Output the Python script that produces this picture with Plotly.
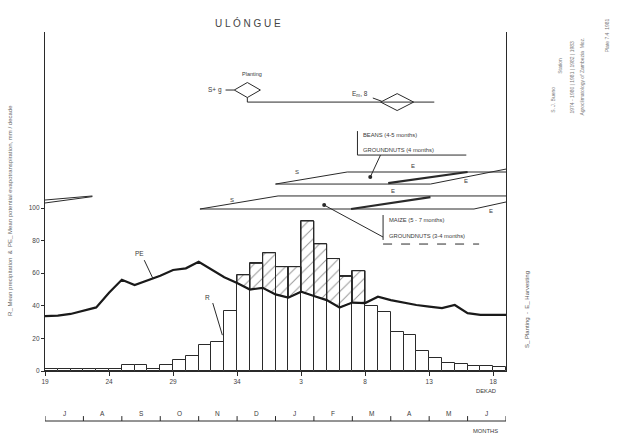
import plotly.graph_objects as go

# ---- data -------------------------------------------------------------
DEKAD_TICK_LABELS = ["19", "24", "29", "34", "3", "8", "13", "18"]
MONTHS = ["J", "A", "S", "O", "N", "D", "J", "F", "M", "A", "M", "J"]

# mean rainfall per dekad (mm), July dekad 19 through June dekad 18
RAIN = [1.5, 1.5, 1.0, 1.5, 1.0, 1.5,
        3.5, 3.5, 1.5, 3.5, 6.5, 9.0,
        16.0, 18.0, 37.0, 59.0, 66.0, 72.5,
        64.0, 64.0, 92.0, 78.0, 69.0, 58.0,
        61.5, 40.0, 36.0, 24.0, 22.0, 12.0,
        8.0, 5.0, 4.5, 3.0, 3.0, 2.5]

# mean potential evapotranspiration (mm/dekad) at dekad boundaries
PE = [33.7, 34.0, 35.0, 37.0, 39.0, 48.0, 56.0, 52.7, 55.5, 58.5,
      62.0, 63.0, 67.0, 62.0, 57.5, 54.0, 50.0, 51.0, 47.0, 45.0,
      48.7, 46.0, 43.5, 39.0, 42.0, 41.7, 45.6, 43.5, 42.0, 40.5,
      39.5, 38.6, 40.5, 35.5, 34.4, 34.4, 34.4]

N = len(RAIN)
INK = "#2a2a2a"
TXT = "#3a3a3a"
FONT = "Liberation Sans"

# plot area in pixels (used for paper-coordinate texts)
PX_L, PX_R, PX_T, PX_B = 45, 506, 32, 371

fig = go.Figure()

# rainfall bars
fig.add_trace(go.Bar(
    x=[i + 0.5 for i in range(N)], y=RAIN, width=1.0,
    marker=dict(color="white", line=dict(color=INK, width=1)),
    hoverinfo="skip", showlegend=False))

# hatching where rainfall exceeds PE
hx, hy = [], []
for i in range(N):
    if RAIN[i] > max(PE[i], PE[i + 1]):
        hx += [i, i + 1, i + 1, i, i, None]
        hy += [PE[i], PE[i + 1], RAIN[i], RAIN[i], PE[i], None]
fig.add_trace(go.Scatter(
    x=hx, y=hy, mode="lines", fill="toself",
    fillcolor="rgba(0,0,0,0)",
    fillpattern=dict(shape="/", fgcolor=INK, size=8, solidity=0.12),
    line=dict(color=INK, width=1), hoverinfo="skip", showlegend=False))

# PE curve
fig.add_trace(go.Scatter(
    x=list(range(N + 1)), y=PE, mode="lines",
    line=dict(color="#1a1a1a", width=2.2), hoverinfo="skip", showlegend=False))


def seg(x0, y0, x1, y1, width=1.0, dash=None, yref="y"):
    fig.add_shape(type="line", xref="x", yref=yref, x0=x0, y0=y0, x1=x1, y1=y1,
                  line=dict(color=INK, width=width, dash=dash))


def note(x, y, text, size=6, xanchor="center", xref="x", yref="y", angle=0, color=TXT):
    fig.add_annotation(x=x, y=y, xref=xref, yref=yref, text=text, showarrow=False,
                       xanchor=xanchor, yanchor="middle", textangle=angle,
                       font=dict(family=FONT, size=size, color=color))


def diamond(cx, cy, hw, hh):
    fig.add_trace(go.Scatter(
        x=[cx - hw, cx, cx + hw, cx, cx - hw], y=[cy, cy + hh, cy, cy - hh, cy],
        mode="lines", line=dict(color=INK, width=1), fill="toself",
        fillcolor="white", hoverinfo="skip", showlegend=False))


# planting / harvest schematic
seg(15.8, 167.8, 15.8, 165.0)
seg(15.8, 165.0, 30.4, 165.0)
diamond(15.8, 172.4, 1.02, 4.6)
diamond(27.5, 165.0, 1.29, 5.2)
seg(14.1, 172.4, 14.78, 172.4)
seg(25.6, 167.5, 26.3, 165.5)
note(16.2, 182.0, "Planting", size=5.5)
note(13.3, 172.4, "S+ g", size=6.5)
note(24.6, 170.0, "E<sub>m</sub>, 8", size=6.5)

# beans / groundnuts sowing-harvest windows
seg(18.0, 114.7, 23.6, 122.1)
seg(23.6, 122.1, 36.0, 122.1)
seg(18.0, 114.7, 30.1, 114.7)
seg(30.1, 114.7, 36.0, 123.9)
seg(26.8, 115.3, 33.0, 122.1, width=2.2)
note(19.7, 122.0, "S", size=6)
note(28.7, 126.0, "E", size=6)
note(32.9, 116.5, "E", size=6)

# maize / groundnuts windows
seg(12.1, 99.4, 18.2, 107.4)
seg(18.2, 107.4, 36.0, 107.4)
seg(12.1, 99.4, 33.5, 99.4)
seg(33.5, 99.4, 36.0, 103.7)
seg(23.9, 99.4, 30.1, 106.7, width=2.2)
seg(0.0, 104.9, 3.7, 107.4)
seg(0.0, 103.1, 3.7, 107.0)
note(14.6, 105.0, "S", size=6)
note(27.2, 110.4, "E", size=6)
note(34.8, 98.0, "E", size=6)

# crop labels with leaders
fig.add_trace(go.Scatter(x=[25.4, 21.8], y=[119.0, 101.8], mode="markers",
                         marker=dict(color=INK, size=4), hoverinfo="skip",
                         showlegend=False))
seg(25.4, 119.0, 26.2, 132.5)
seg(21.8, 101.8, 26.4, 82.2)
seg(24.4, 147.2, 24.4, 132.5)
seg(24.4, 132.5, 32.9, 132.5)
note(24.7, 144.6, "BEANS (4-5 months)", size=5.8, xanchor="left")
note(24.7, 135.4, "GROUNDNUTS (4 months)", size=5.8, xanchor="left")
seg(26.4, 95.7, 26.4, 80.4)
seg(26.4, 77.9, 33.9, 77.9, dash="dash")
note(26.7, 92.6, "MAIZE (5 - 7 months)", size=5.8, xanchor="left")
note(26.7, 82.8, "GROUNDNUTS (3-4 months)", size=5.8, xanchor="left")

# series labels
note(12.7, 45.4, "R", size=6.5)
seg(13.1, 41.7, 13.85, 22.0)
note(7.4, 72.4, "PE", size=6.5)
seg(7.75, 68.0, 8.45, 56.4)

# month ruler below the dekad axis
seg(0, -0.1475, 36, -0.1475, yref="paper")
for m in range(13):
    seg(3 * m, -0.1475, 3 * m, -0.133, yref="paper")
for m, lab in enumerate(MONTHS):
    note(3 * m + 1.5, -0.124, lab, size=6.5, yref="paper")
note(34.4, -0.059, "DEKAD", size=5.8, yref="paper")
note(34.4, -0.177, "MONTHS", size=5.8, yref="paper")

# title and side texts
note((248 - PX_L) / (PX_R - PX_L), (PX_B - 23) / (PX_B - PX_T),
     "U L Ó N G U E", size=10, xref="paper", yref="paper", color="#444")
note(-0.076, 0.475,
     "R_ Mean precipitation  &  PE_ Mean potential evapotranspiration, mm / decade",
     size=6, xref="paper", yref="paper", angle=-90, color="#666")
note(1.0456, 0.18, "S_ Planting  -  E_ Harvesting", size=6,
     xref="paper", yref="paper", angle=-90, color="#555")
note(1.219, 0.99, "Plate 7.4  1981", size=5, xref="paper", yref="paper",
     angle=-90, color="#777")
note(1.166, 0.867, "Agroclimatology of Zambezia  Moz.", size=5,
     xref="paper", yref="paper", angle=-90, color="#777")
note(1.144, 0.867, "1974 - 1980 | 1981 | 1982 | 1983", size=5,
     xref="paper", yref="paper", angle=-90, color="#777")
note(1.117, 0.90, "Station", size=5, xref="paper", yref="paper",
     angle=-90, color="#777")
note(1.102, 0.80, "S. J. Bueno", size=5, xref="paper", yref="paper",
     angle=-90, color="#777")

fig.update_layout(
    width=621, height=438,
    margin=dict(l=PX_L, r=621 - PX_R, t=PX_T, b=438 - PX_B),
    paper_bgcolor="white", plot_bgcolor="white",
    bargap=0, showlegend=False,
    font=dict(family=FONT, size=6, color=TXT),
    xaxis=dict(range=[0, 36], tickmode="array",
               tickvals=[0, 5, 10, 15, 20, 25, 30, 35],
               ticktext=DEKAD_TICK_LABELS, ticks="outside", ticklen=4,
               tickcolor=INK, showline=True, linecolor=INK, linewidth=1.2,
               showgrid=False, zeroline=False,
               tickfont=dict(family=FONT, size=6.5, color="#444")),
    yaxis=dict(range=[0, 208], tickmode="array",
               tickvals=[0, 20, 40, 60, 80, 100],
               ticktext=["0", "20", "40", "60", "80", "100"],
               ticks="outside", ticklen=3, tickcolor=INK,
               showline=True, linecolor=INK, linewidth=1.2, mirror=True,
               showgrid=False, zeroline=False,
               tickfont=dict(family=FONT, size=6.5, color="#444")),
)

fig.write_html("out.html")
